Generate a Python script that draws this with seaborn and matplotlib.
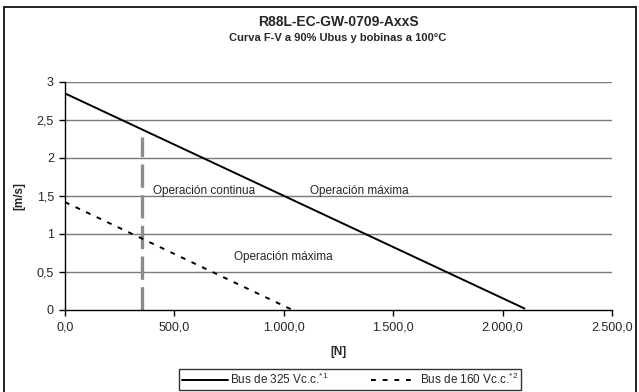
import matplotlib
matplotlib.use("Agg")
import matplotlib.pyplot as plt
import seaborn as sns
import pandas as pd
from matplotlib.patches import Rectangle

# ---- data ----
force_325 = [0, 2100]
speed_325 = [2.85, 0.02]
force_160 = [0, 1040]
speed_160 = [1.42, 0.0]
cont_force = [350, 350]
cont_speed = [0.0, 2.27]

x_ticks = [0, 500, 1000, 1500, 2000, 2500]
x_tick_labels = ["0,0", "500,0", "1.000,0", "1.500,0", "2.000,0", "2.500,0"]
y_ticks = [0, 0.5, 1, 1.5, 2, 2.5, 3]
y_tick_labels = ["0", "0,5", "1", "1,5", "2", "2,5", "3"]

label_325 = r"Bus de 325 Vc.c.$^{*1}$"
label_160 = r"Bus de 160 Vc.c.$^{*2}$"

sns.set_style("white")
plt.rcParams["font.family"] = ["Liberation Sans", "DejaVu Sans"]
plt.rcParams["mathtext.fontset"] = "custom"
plt.rcParams["mathtext.rm"] = "Liberation Sans"
plt.rcParams["mathtext.it"] = "Liberation Sans"

fig = plt.figure(figsize=(6.39, 3.92), dpi=100)
ax = fig.add_axes([65 / 639, 1 - 310 / 392, (612 - 65) / 639, (310 - 82) / 392])

df325 = pd.DataFrame({"F": force_325, "V": speed_325})
df160 = pd.DataFrame({"F": force_160, "V": speed_160})
dfc = pd.DataFrame({"F": cont_force, "V": cont_speed})

for yv in y_ticks[1:]:
    ax.axhline(yv, color="#7a7a7a", lw=1.0, zorder=1)

sns.lineplot(data=dfc, x="F", y="V", ax=ax, color="#8c8c8c", lw=2.4,
             zorder=2, legend=False, estimator=None, sort=False)
ax.lines[-1].set_dashes([7, 2.2])
sns.lineplot(data=df325, x="F", y="V", ax=ax, color="black", lw=1.4,
             label=label_325, zorder=3, estimator=None, sort=False)
sns.lineplot(data=df160, x="F", y="V", ax=ax, color="black", lw=1.4,
             label=label_160, zorder=3, estimator=None, sort=False)
ax.lines[-1].set_dashes([2.5, 3.5])

ax.set_xlim(0, 2500)
ax.set_ylim(0, 3)
ax.set_xticks(x_ticks)
ax.set_xticklabels(x_tick_labels, fontsize=9)
ax.set_yticks(y_ticks)
ax.set_yticklabels(y_tick_labels, fontsize=9)
ax.tick_params(axis="both", direction="out", length=4, width=1, color="black",
               pad=4, bottom=True, left=True)
for s in ["top", "right"]:
    ax.spines[s].set_visible(False)
for s in ["left", "bottom"]:
    ax.spines[s].set_color("black")
    ax.spines[s].set_linewidth(1.0)

ax.set_xlabel("[N]", fontsize=8.5, fontweight="bold", labelpad=9)
ax.set_ylabel("[m/s]", fontsize=8.5, fontweight="bold", labelpad=8)

ax.text(637, 1.57, "Operación continua", fontsize=8.5, ha="center", va="center")
ax.text(1345, 1.57, "Operación máxima", fontsize=8.5, ha="center", va="center")
ax.text(1000, 0.70, "Operación máxima", fontsize=8.5, ha="center", va="center")

fig.text(338 / 639, 1 - 22 / 392, "R88L-EC-GW-0709-AxxS", fontsize=10,
         fontweight="bold", ha="center", va="center")
fig.text(338 / 639, 1 - 38 / 392, "Curva F-V a 90% Ubus y bobinas a 100°C",
         fontsize=8, fontweight="bold", ha="center", va="center")

ax.get_legend().remove()
handles = [ax.lines[-2], ax.lines[-1]]
leg = fig.legend(handles, [label_325, label_160], loc="center",
                 bbox_to_anchor=(350 / 639, 1 - 379.5 / 392), ncol=2,
                 fontsize=8.5, frameon=True, fancybox=False, edgecolor="black",
                 handlelength=3.9, handletextpad=0.2, columnspacing=3.6,
                 borderpad=0.25, borderaxespad=0)
leg.get_frame().set_linewidth(1.0)

fig.patches.append(Rectangle((4 / 639, -0.02), (636 - 4) / 639, 1 - 7 / 392 + 0.02,
                             transform=fig.transFigure, fill=False,
                             edgecolor="#222222", lw=1.4))

fig.savefig("out.png", dpi=100)
